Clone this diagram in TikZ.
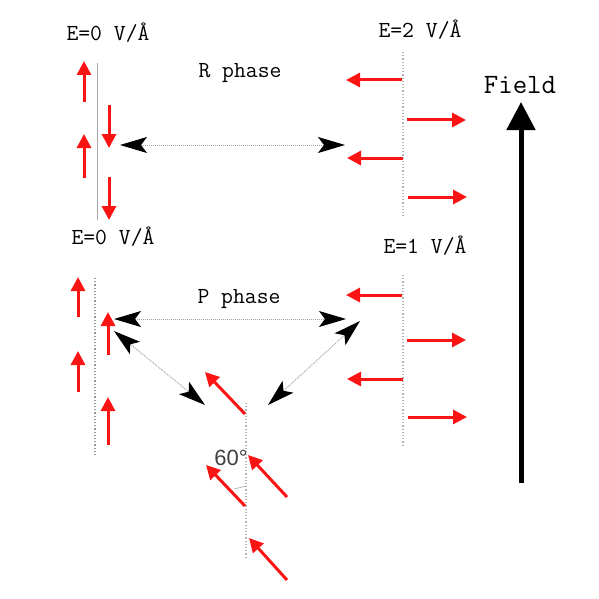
\documentclass[tikz,border=0pt]{standalone}
\usepackage{fontspec}
\newfontfamily\degfont{Liberation Sans}
\usetikzlibrary{arrows.meta}
\definecolor{spinred}{RGB}{250,20,20}
\begin{document}
\begin{tikzpicture}[x=1pt,y=-1pt,
  spin/.style={draw=spinred,line width=3pt,-{Triangle[length=14pt,width=14pt]}},
  axisline/.style={draw=gray!70,line width=1pt},
  dotaxis/.style={draw=gray!60,line width=1.2pt,dotted},
  trans/.style={draw=gray!70,line width=1pt,densely dotted,{Stealth[black,length=27pt,width=16pt,inset=6pt]}-{Stealth[black,length=27pt,width=16pt,inset=6pt]}},
  lab/.style={font=\ttfamily\fontsize{23}{23}\selectfont,inner sep=0pt},
]
\useasboundingbox (0,0) rectangle (599,599);
% ---- top left: E=0, R phase
\node[lab] (tl) at (108,33) {E=0 V/Å};
\draw[axisline] (97,63) -- (97,220);
\coordinate (a1s) at (84,102); \coordinate (a1e) at (84,61);
\coordinate (a2s) at (109,105); \coordinate (a2e) at (109,148);
\coordinate (a3s) at (84,178); \coordinate (a3e) at (84,134);
\coordinate (a4s) at (109,177); \coordinate (a4e) at (109,220);
\draw[spin] (a1s) -- (a1e);
\draw[spin] (a2s) -- (a2e);
\draw[spin] (a3s) -- (a3e);
\draw[spin] (a4s) -- (a4e);
\node[lab] (rph) at (240,73) {R phase};
% ---- top right: E=2
\node[lab] (tr) at (420,30) {E=2 V/Å};
\draw[dotaxis] (403,52) -- (403,218);
\coordinate (b1s) at (402,80); \coordinate (b1e) at (346,80);
\coordinate (b2s) at (407,120); \coordinate (b2e) at (466,120);
\coordinate (b3s) at (403,158); \coordinate (b3e) at (347,158);
\coordinate (b4s) at (408,197); \coordinate (b4e) at (467,197);
\draw[spin] (b1s) -- (b1e);
\draw[spin] (b2s) -- (b2e);
\draw[spin] (b3s) -- (b3e);
\draw[spin] (b4s) -- (b4e);
\coordinate (rL) at (120,145); \coordinate (rR) at (345,145);
\draw[trans] (rL) -- (rR);
% ---- field arrow
\node[font=\ttfamily\fontsize{28}{28}\selectfont,inner sep=0pt] (fld) at (520,85) {Field};
\coordinate (f0) at (521,483); \coordinate (f1) at (521,102);
\draw[line width=5pt,-{Triangle[length=28pt,width=28pt]}] (f0) -- (f1);
% ---- middle left: E=0, P phase
\node[lab] (ml) at (113,237) {E=0 V/Å};
\draw[dotaxis,draw=gray!80] (95,278) -- (95,455);
\coordinate (c1s) at (78,317); \coordinate (c1e) at (78,277);
\coordinate (c2s) at (108,355); \coordinate (c2e) at (108,312);
\coordinate (c3s) at (78,392); \coordinate (c3e) at (78,351);
\coordinate (c4s) at (108,445); \coordinate (c4e) at (108,397);
\draw[spin] (c1s) -- (c1e);
\draw[spin] (c2s) -- (c2e);
\draw[spin] (c3s) -- (c3e);
\draw[spin] (c4s) -- (c4e);
\node[lab] (pph) at (239,299) {P phase};
% ---- middle right: E=1
\node[lab] (mr) at (425,246) {E=1 V/Å};
\draw[dotaxis] (403,275) -- (403,447);
\coordinate (d1s) at (402,295); \coordinate (d1e) at (346,295);
\coordinate (d2s) at (407,340); \coordinate (d2e) at (466,340);
\coordinate (d3s) at (403,379); \coordinate (d3e) at (347,379);
\coordinate (d4s) at (408,417); \coordinate (d4e) at (467,417);
\draw[spin] (d1s) -- (d1e);
\draw[spin] (d2s) -- (d2e);
\draw[spin] (d3s) -- (d3e);
\draw[spin] (d4s) -- (d4e);
\coordinate (pL) at (114,319); \coordinate (pR) at (346,319);
\draw[trans] (pL) -- (pR);
\coordinate (qA) at (114,331); \coordinate (qB) at (205,405);
\draw[trans] (qA) -- (qB);
\coordinate (sA) at (360,321); \coordinate (sB) at (268,405);
\draw[trans] (sA) -- (sB);
% ---- bottom: tilted
\draw[dotaxis] (246,403) -- (246,558);
\coordinate (e1s) at (245,414); \coordinate (e1e) at (205,372);
\coordinate (e2s) at (287,497); \coordinate (e2e) at (248,455);
\coordinate (e3s) at (245,506); \coordinate (e3e) at (206,465);
\coordinate (e4s) at (287,580); \coordinate (e4e) at (249,538);
\draw[spin] (e1s) -- (e1e);
\draw[spin] (e2s) -- (e2e);
\draw[spin] (e3s) -- (e3e);
\draw[spin] (e4s) -- (e4e);
\node[font=\degfont\fontsize{22}{22}\selectfont,text=black!75,inner sep=0pt] (ang) at (231,458) {60°};
\draw[gray!70,line width=0.6pt] (234,489) -- (246,486);
\end{tikzpicture}
\end{document}
